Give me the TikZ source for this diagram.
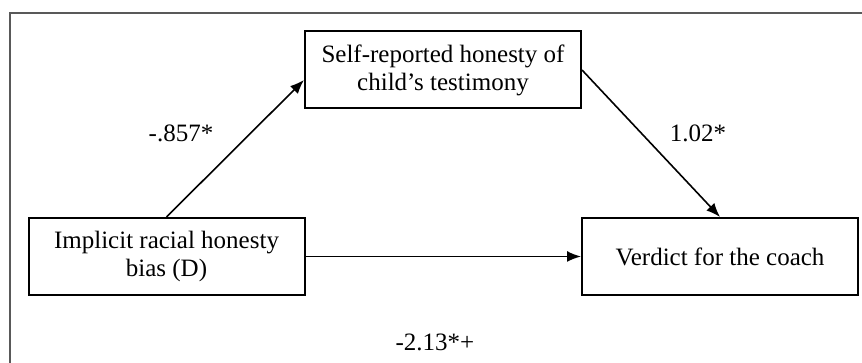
\documentclass[tikz,border=0pt]{standalone}
\usepackage{fontspec}
\setmainfont{Liberation Serif}
\usetikzlibrary{calc,arrows.meta}

\begin{document}
\begin{tikzpicture}[x=0.5pt,y=0.5pt,
        var/.style={draw,line width=1pt,align=center,font=\fontsize{12.5}{14}\selectfont,
                    minimum width=138pt,minimum height=38.5pt,inner sep=0pt},
        path/.style={line width=0.8pt,-{Latex[length=7pt,width=5.5pt]}},
        coef/.style={font=\fontsize{12.5}{14}\selectfont}]
    \useasboundingbox (0,0) rectangle (862,363);
    \draw[gray!70!black,line width=0.6pt] (10,0) -- (10,350) -- (862,350); % Frame

    \node[var] (mediator) at (443,293) {Self-reported honesty of\\child’s testimony};
    \node[var] (predictor) at (166.5,106.5) {Implicit racial honesty\\bias (D)};
    \node[var] (outcome) at (720,106.5) {Verdict for the coach};

    \draw[path] (predictor.north) -- ($(mediator.west)+(0,-10)$);  % a path
    \draw[path] (mediator.east) -- (outcome.north);                % b path
    \draw[path] (predictor.east) -- (outcome.west);                % direct path

    \node[coef] (acoef) at (181,230) {-.857*};
    \node[coef] (bcoef) at (698,230) {1.02*};
    \node[coef] (ccoef) at (435,21) {-2.13*+};
\end{tikzpicture}
\end{document}
